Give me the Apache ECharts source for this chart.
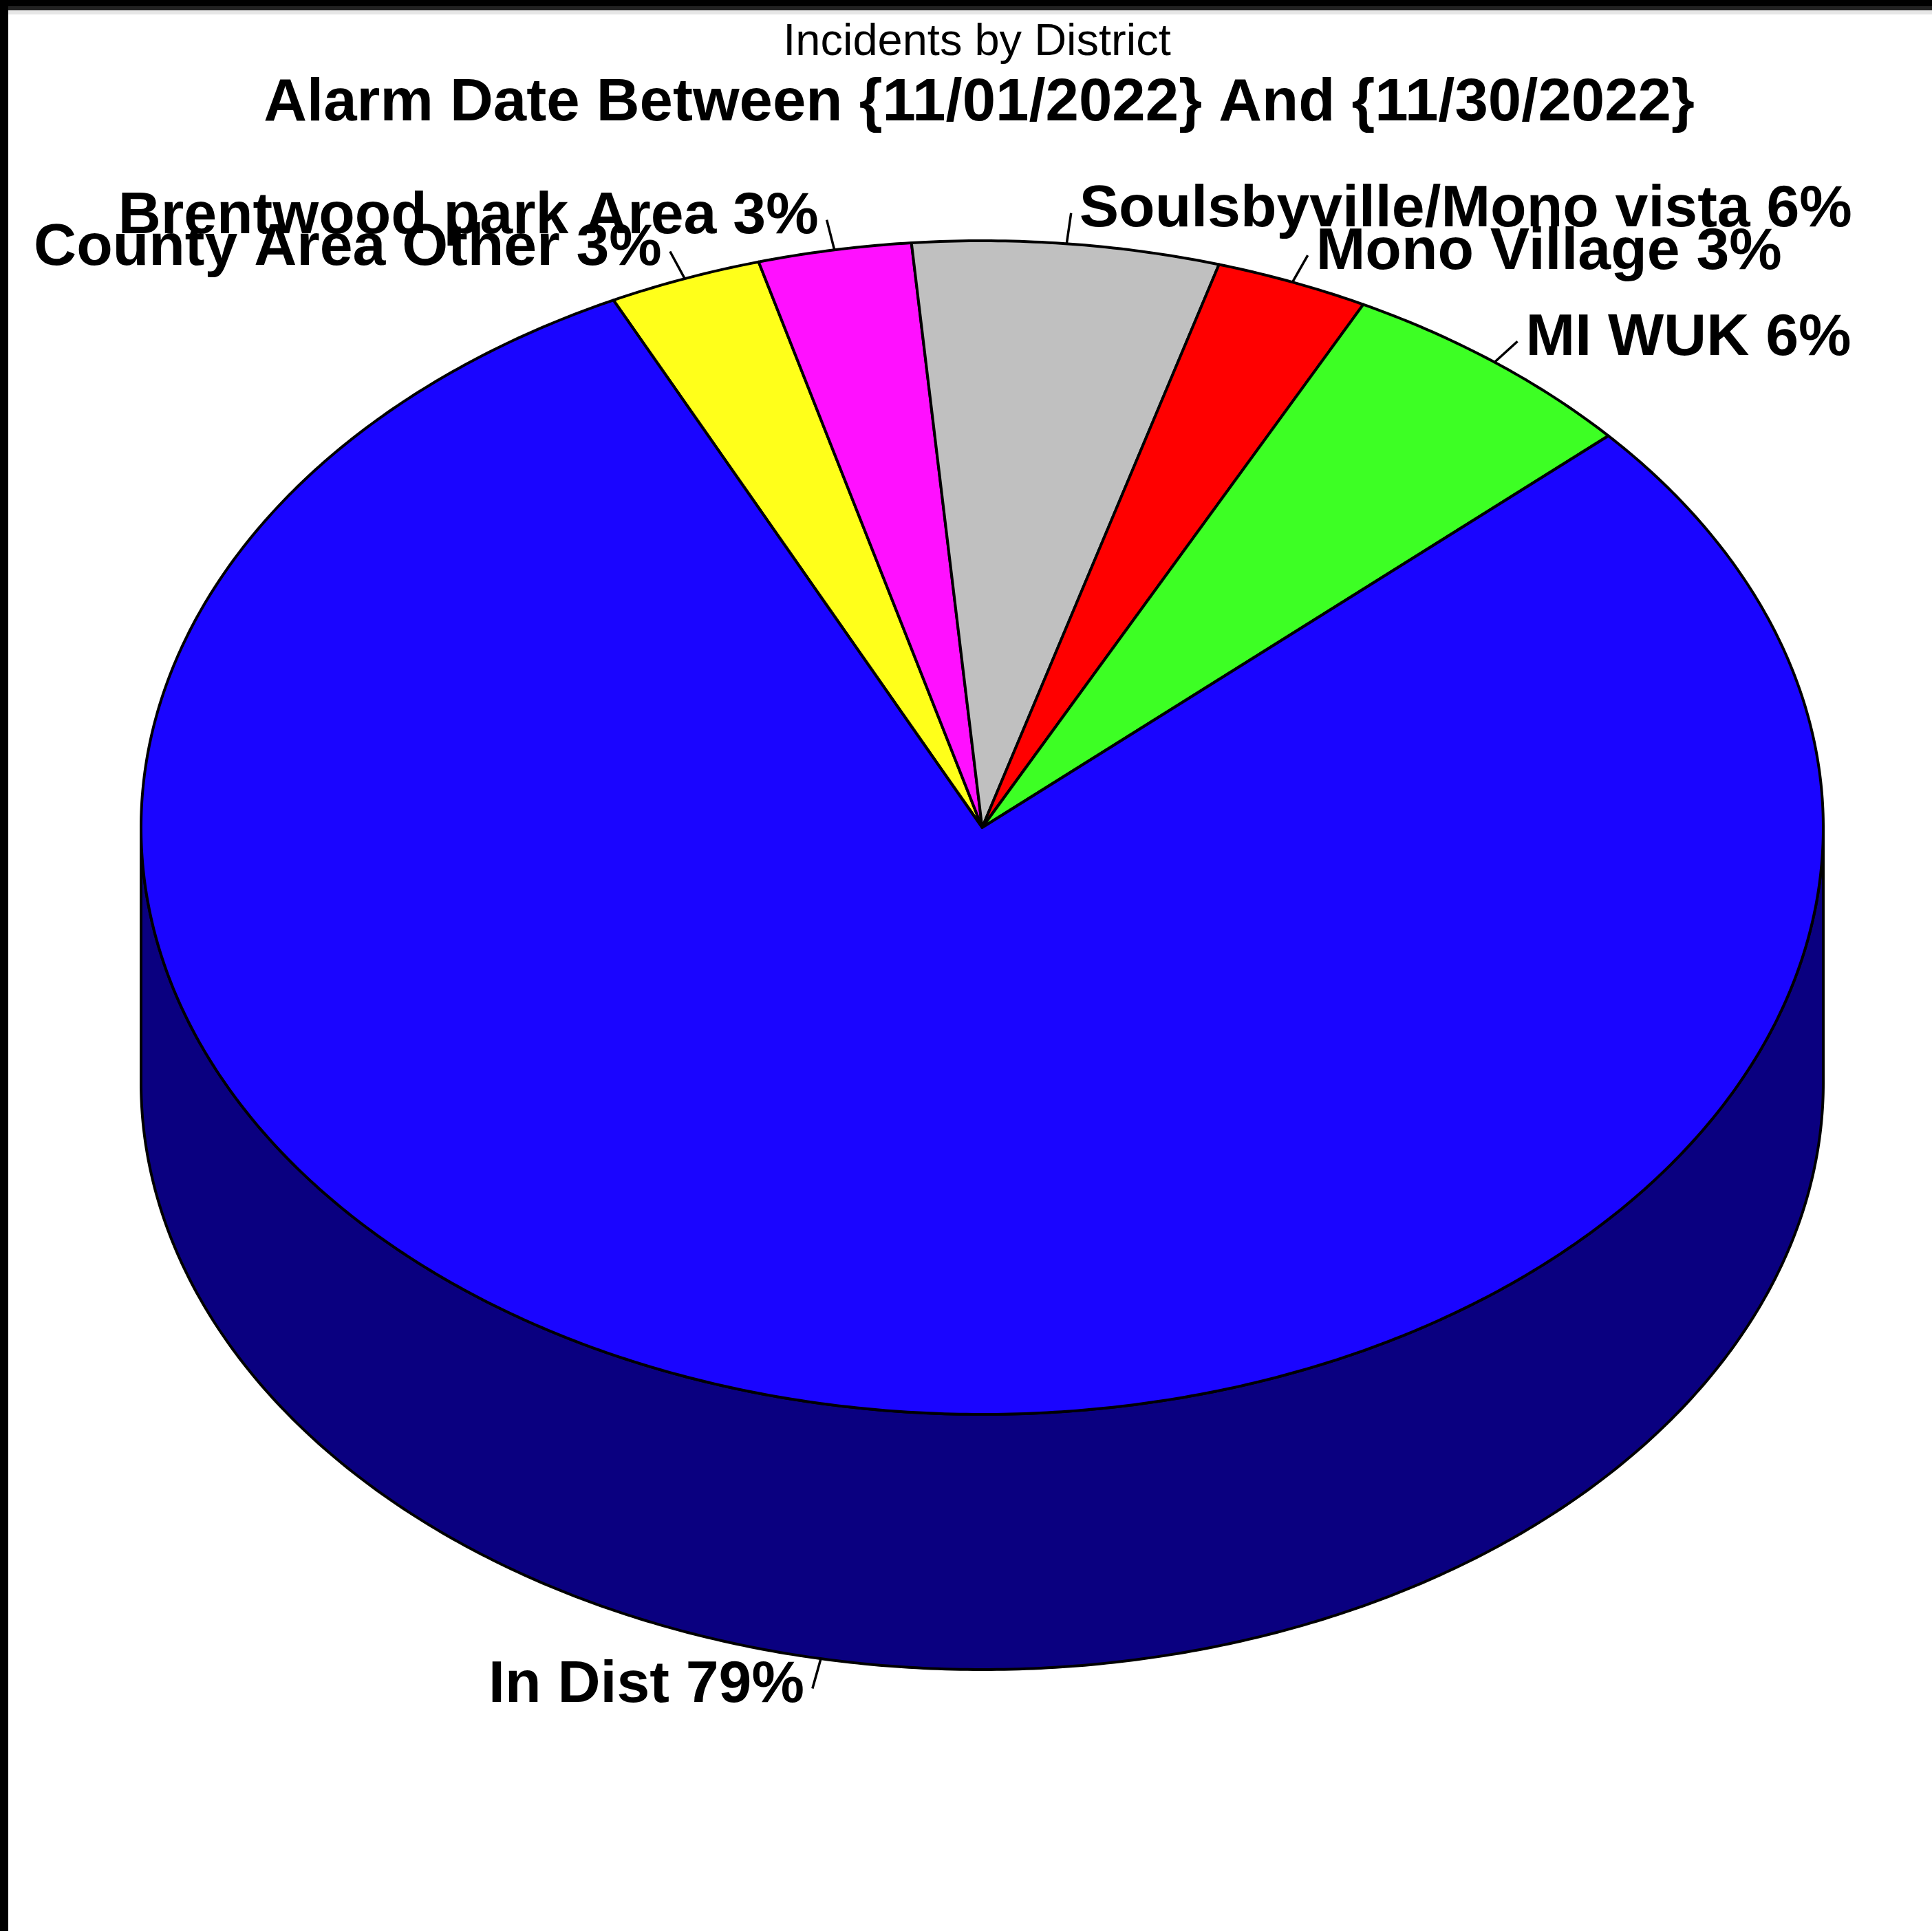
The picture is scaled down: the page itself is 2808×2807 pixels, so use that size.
<!DOCTYPE html>
<html><head><meta charset="utf-8">
<script src="https://cdn.jsdelivr.net/npm/echarts@6/dist/echarts.min.js"></script>
<style>html,body{margin:0;padding:0;background:#fff}#c{width:2808px;height:2807px}</style>
</head><body><div id="c"></div>
<script>
// ---- data ----
const titleText = 'Incidents by District';
const subtitleText = 'Alarm Date Between {11/01/2022} And {11/30/2022}';
const districts = ['County Area Other', 'Brentwood park Area', 'Soulsbyville/Mono vista', 'Mono Village', 'MI WUK', 'In Dist'];
const incidents = [1, 1, 2, 1, 2, 27];
const topColors = ['#ffff1a', '#ff10ff', '#c0c0c0', '#ff0000', '#3dff24', '#1a05ff'];
const sideColors = ['#80800d', '#800880', '#606060', '#800000', '#1e8012', '#0a0080'];

// ---- layout ----
const START = 116;
const CX = 1427.5, CY = 1203, RX = 1222.5, RY = 853, DEPTH = 371;
const FONT = "'Liberation Sans', Arial, sans-serif";
const total = incidents.reduce((a, b) => a + b, 0);

function pt(theta, dy) {
  const r = theta * Math.PI / 180;
  return [CX + RX * Math.cos(r), CY - RY * Math.sin(r) + (dy || 0)];
}
function arc(a1, a2, dy) {
  const n = Math.max(2, Math.ceil(Math.abs(a1 - a2) / 0.5));
  const pts = [];
  for (let i = 0; i <= n; i++) pts.push(pt(a1 + (a2 - a1) * i / n, dy));
  return pts;
}

function renderItem(params, api) {
  const i = params.dataIndex;
  const v = api.value(0);
  let cum = 0;
  for (let k = 0; k < i; k++) cum += incidents[k];
  const aStart = START - cum * 360 / total;
  const aEnd = aStart - v * 360 / total;
  const children = [];
  // side walls (front half)
  for (let k = -2; k <= 1; k++) {
    const lo = Math.max(aEnd, 180 + 360 * k);
    const hi = Math.min(aStart, 360 + 360 * k);
    if (hi > lo) {
      const pts = arc(hi, lo, 0).concat(arc(lo, hi, DEPTH));
      children.push({
        type: 'polygon', z2: 1,
        shape: { points: pts },
        style: { fill: sideColors[i], stroke: '#000', lineWidth: 4, lineJoin: 'round' }
      });
    }
  }
  // top face
  const topPts = [[CX, CY]].concat(arc(aStart, aEnd, 0));
  children.push({
    type: 'polygon', z2: 2,
    shape: { points: topPts },
    style: { fill: topColors[i], stroke: '#000', lineWidth: 4, lineJoin: 'round' }
  });
  // leader + label
  const mid = (aStart + aEnd) / 2;
  const r = mid * Math.PI / 180;
  const c = Math.cos(r), s = Math.sin(r);
  const edge = pt(mid, s < 0 ? DEPTH : 0);
  let dx = c * RX, dy = -s * RY;
  const len = Math.hypot(dx, dy);
  dx /= len; dy /= len;
  const L = 45;
  const end = [edge[0] + dx * L, edge[1] + dy * L];
  children.push({
    type: 'line', z2: 3,
    shape: { x1: edge[0], y1: edge[1], x2: end[0], y2: end[1] },
    style: { stroke: '#000', lineWidth: 3.5 }
  });
  const right = c >= 0;
  children.push({
    type: 'text', z2: 4,
    x: end[0] + (right ? 12 : -12), y: end[1] - 4,
    style: {
      text: districts[i] + ' ' + Math.round(v / total * 100) + '%',
      fontFamily: FONT, fontSize: 86, fontWeight: 'bold', fill: '#000',
      align: right ? 'left' : 'right', verticalAlign: 'middle'
    }
  });
  return { type: 'group', children };
}

const chart = echarts.init(document.getElementById('c'), null, { renderer: 'canvas' });
chart.setOption({
  animation: false,
  backgroundColor: '#fff',
  title: [
    { text: titleText, left: 1420, top: 30, textAlign: 'center', padding: 0,
      textStyle: { fontFamily: FONT, fontSize: 65, fontWeight: 'normal', color: '#000' } },
    { text: subtitleText, left: 1423, top: 108, textAlign: 'center', padding: 0,
      textStyle: { fontFamily: FONT, fontSize: 87, fontWeight: 'bold', color: '#000' } }
  ],
  graphic: [
    { type: 'rect', shape: { x: 0, y: 0, width: 2808, height: 9 }, style: { fill: '#000' } },
    { type: 'rect', shape: { x: 12, y: 9, width: 2796, height: 6 }, style: { fill: '#222' } },
    { type: 'rect', shape: { x: 12, y: 15, width: 2796, height: 6 }, style: { fill: '#e6e6e6' } },
    { type: 'rect', shape: { x: 0, y: 0, width: 12, height: 2807 }, style: { fill: '#000' } }
  ],
  series: [{
    type: 'custom',
    coordinateSystem: 'none',
    silent: true,
    renderItem: renderItem,
    data: incidents.map((v, i) => ({ name: districts[i], value: v }))
  }]
});
</script>
</body></html>
